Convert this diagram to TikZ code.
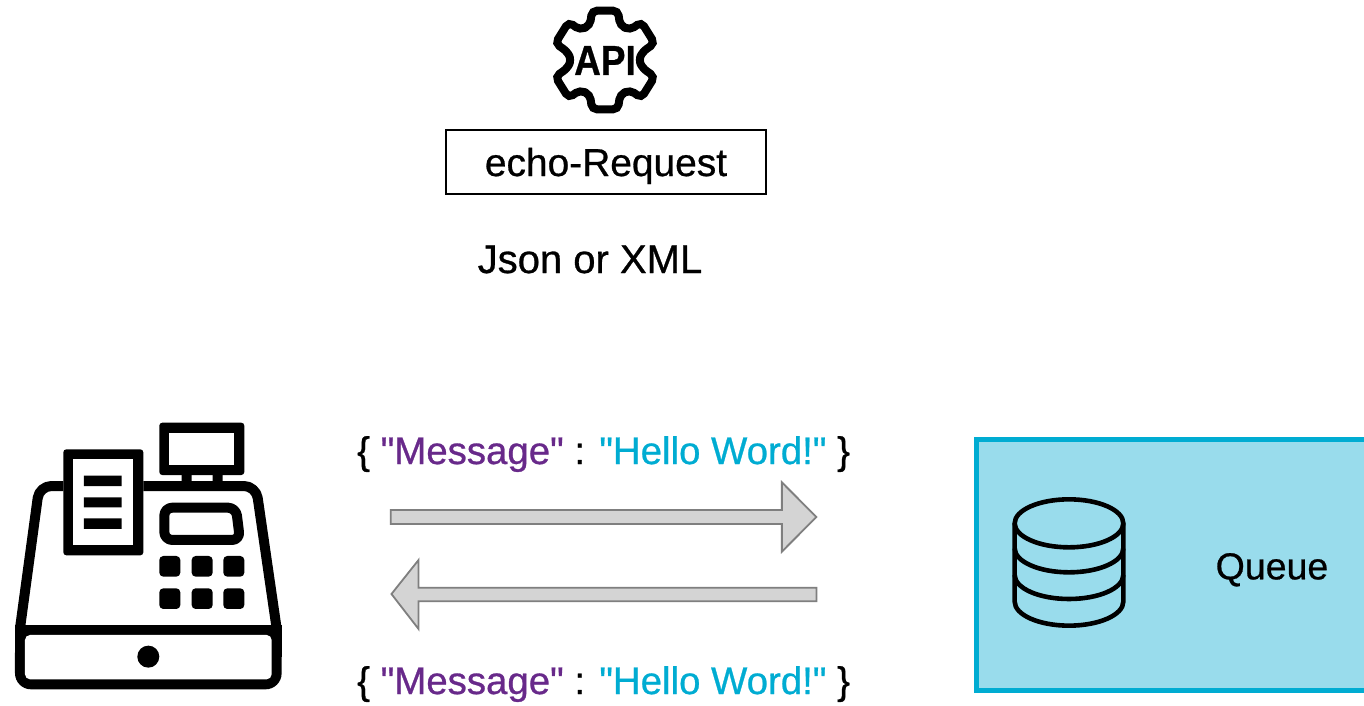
\documentclass[tikz,border=0pt]{standalone}
\usepackage{graphicx}
\usepackage{fontspec}
\setmainfont{Liberation Sans}
\newfontfamily\plainfont[FakeBold=0.7]{Liberation Sans}
\definecolor{qfill}{HTML}{99DCEC}
\definecolor{qline}{HTML}{00ACD2}
\definecolor{msgpurple}{HTML}{68298A}
\definecolor{arrfill}{HTML}{D4D4D4}
\definecolor{arrline}{HTML}{7F7F7F}
\newcommand{\msgline}{\{ \textcolor{msgpurple}{"Message"} : \textcolor{qline}{"Hello Word!"} \}}
\tikzset{
  lbl/.style={inner sep=0pt,anchor=base,text=black},
  msg/.style={inner sep=0pt,anchor=base west,font=\plainfont\fontsize{38.4}{44}\selectfont},
  fatarrow/.style={fill=arrfill,draw=arrline,line width=1.8pt,line join=miter},
  icon/.style={draw=black,line width=10pt,line join=round,line cap=butt},
  zoomA/.style={shift={(0,410)},x=0.3333pt,y=-0.3333pt},
  zoomG/.style={shift={(530,0)},x=0.3333pt,y=-0.3333pt},
  zoomQ/.style={shift={(960,420)},x=0.3333pt,y=-0.3333pt},
  zoomM/.style={shift={(340,420)},x=0.3386pt,y=-0.3333pt},
}
\begin{document}
\begin{tikzpicture}[x=1pt,y=-1pt]
\path[use as bounding box,fill=white] (0,0) rectangle (1364,705);
\clip (0,0) rectangle (1364,705);

% gear
\begin{scope}[zoomG]
\draw[draw=black,line width=8pt,rounded corners=5pt]
  (186,32) -- (264,32) -- (270,76) -- (300,90) -- (334,66) -- (374,130) -- (338,155) -- (326,180)
  -- (338,205) -- (374,230) -- (334,294) -- (300,270) -- (270,284) -- (264,328) -- (186,328)
  -- (180,284) -- (150,270) -- (116,294) -- (76,230) -- (112,205) -- (124,180) -- (112,155)
  -- (76,130) -- (116,66) -- (150,90) -- (180,76) -- cycle;
\node[lbl,font=\plainfont\fontsize{42}{44}\bfseries\selectfont] (api) at (225,225) {\scalebox{0.88}[1]{API}};
\end{scope}

% echo box
\node[draw=black,line width=2pt,minimum width=320pt,minimum height=64pt,inner sep=0pt,
  font=\plainfont\fontsize{38.9}{42}\selectfont,text=black] (echo) at (606,162) {\raisebox{-14pt}[0pt][0pt]{echo-Request}};
\node[lbl,font=\plainfont\fontsize{40}{44}\selectfont] (json) at (590,273) {Json or XML};

% cash register
\begin{scope}[zoomA]
\draw[icon,rounded corners=12pt] (60,655) -- (118,228) -- (190,228);
\draw[icon,rounded corners=12pt] (430,228) -- (768,228) -- (830,655);
\fill[black,rounded corners=3pt] (190,118) rectangle (430,436);
\fill[white] (220,148) rectangle (400,406);
\fill[black,rounded corners=3pt] (478,38) rectangle (733,195);
\fill[white] (508,68) rectangle (703,165);
\fill[black] (545,190) rectangle (575,225) (638,190) rectangle (668,225);
% base
\fill[black] (45,645) rectangle (845,740);
\fill[black,rounded corners=16pt] (45,680) rectangle (845,838);
\fill[white,rounded corners=5pt] (75,675) rectangle (815,808);
\draw[icon,rounded corners=8pt] (493,293) -- (708,293) -- (720,390) -- (493,390) -- cycle;
\fill[black] (252,197) rectangle (365,228) (252,262) rectangle (365,292) (252,325) rectangle (365,357);
\foreach \bx in {478,575,670}
  \foreach \by in {438,535}
    \fill[black,rounded corners=4pt] (\bx,\by) rectangle ++(63,62);
\fill[black] (445,740) circle[radius=33];
\end{scope}

% messages
\node[msg] (m1) at (357,464) {\msgline};
\node[msg] (m2) at (357,694) {\msgline};

% arrows
\begin{scope}[zoomM]
\draw[fatarrow] (150,270) -- (1305,270) -- (1305,187) -- (1407,291) -- (1305,395) -- (1305,312) -- (150,312) -- cycle;
\draw[fatarrow] (1407,503) -- (232,503) -- (232,420) -- (152,522) -- (232,627) -- (232,544) -- (1407,544) -- cycle;
\end{scope}

% queue
\begin{scope}[zoomQ]
\draw[fill=qfill,draw=qline,line width=5pt] (50,58) rectangle (1300,812);
\begin{scope}[draw=black,line width=4.6pt]
\draw (327,310) ellipse[x radius=163,y radius=72];
\draw (164,310) -- (164,545) arc[start angle=180,end angle=0,x radius=163,y radius=72] -- (490,310);
\draw (164,385) arc[start angle=180,end angle=0,x radius=163,y radius=72];
\draw (164,465) arc[start angle=180,end angle=0,x radius=163,y radius=72];
\end{scope}
\node[lbl,font=\plainfont\fontsize{37.5}{42}\selectfont] (queue) at (936,478) {Queue};
\end{scope}
\end{tikzpicture}
\end{document}
